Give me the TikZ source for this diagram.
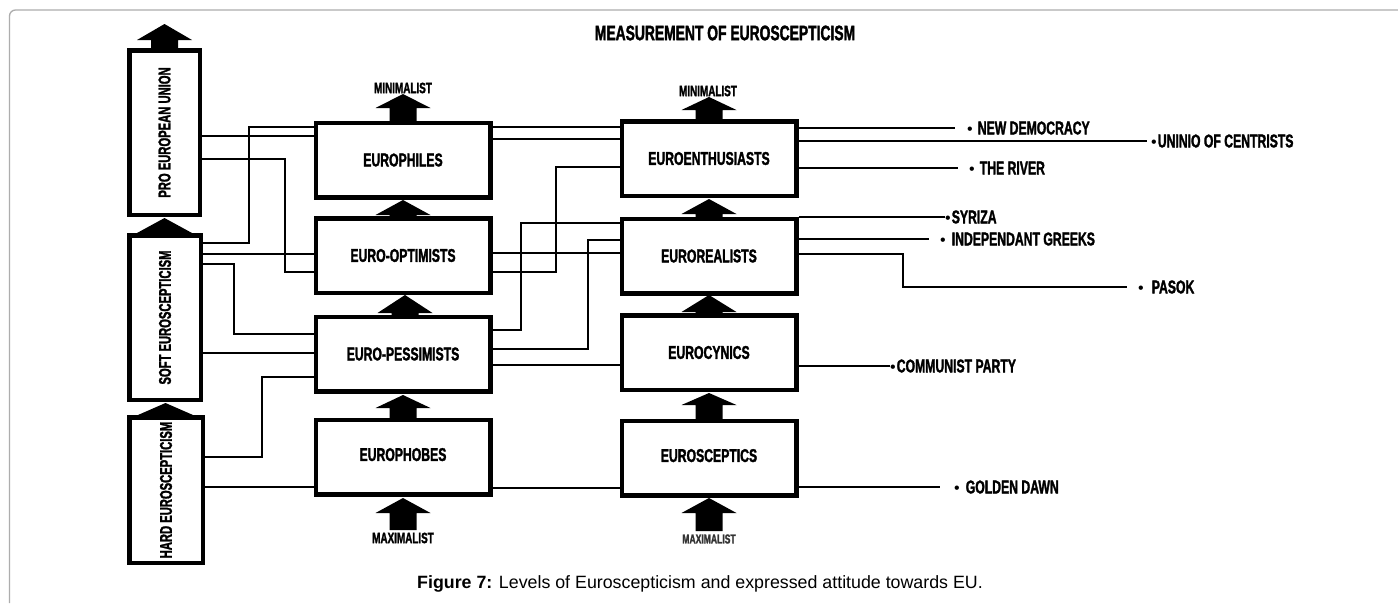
\documentclass[tikz,border=0pt]{standalone}
\usepackage{fontspec}
\usepackage{graphicx}
\setmainfont{Liberation Sans}
\newfontfamily\imp[FakeStretch=0.66,FakeBold=1.6]{Liberation Sans}
\newcommand\pbul{{\normalfont\fontsize{16pt}{16pt}\selectfont •}}
\newcommand\bigUpArr[4]{\fill[black] ({#1-13.5},#4) -- ({#1-13.5},#3) -- ({#1-27.5},#3) -- (#1,#2) -- ({#1+27.5},#3) -- ({#1+13.5},#3) -- ({#1+13.5},#4) -- cycle;}
\begin{document}
\begin{tikzpicture}[x=1pt,y=-1pt,
  box/.style={draw=black, line width=4.5pt, inner sep=0pt, minimum width=174.5pt, minimum height=74.5pt,
    font=\imp\bfseries\fontsize{18.5pt}{18.5pt}\selectfont},
  vbox/.style={draw=black, line width=4.5pt, inner sep=0pt,
    font=\imp\bfseries\fontsize{17pt}{17pt}\selectfont},
  conn/.style={draw=black, line width=2pt},
  smalltxt/.style={inner sep=0pt, font=\imp\bfseries\fontsize{15pt}{15pt}\selectfont},
  party/.style={anchor=west, inner sep=0pt, font=\imp\bfseries\fontsize{18.5pt}{18.5pt}\selectfont},
  titletxt/.style={inner sep=0pt, font=\imp\bfseries\fontsize{21pt}{21pt}\selectfont},
  frameline/.style={draw=black!32, line width=1.3pt, rounded corners=6pt}
]
\useasboundingbox (0,0) rectangle (1398,603);
\fill[white] (0,0) rectangle (1398,603);
\draw[frameline] (9.5,603) -- (9.5,10) -- (1398,10);

% title
\node[titletxt] (title) at (725,33) {MEASUREMENT OF EUROSCEPTICISM};

% left column
\node[vbox, minimum width=70.5pt, minimum height=164.5pt] (pro) at (164.5,132.5) {\rotatebox{90}{PRO EUROPEAN UNION}};
\node[vbox, minimum width=71.5pt, minimum height=164.5pt] (soft) at (165,317.5) {\rotatebox{90}{SOFT EUROSCEPTICISM}};
\node[vbox, minimum width=73.5pt, minimum height=145.5pt] (hard) at (166,490) {\rotatebox{90}{HARD EUROSCEPTICISM}};

% middle column
\node[box] (phil) at (403,160) {\raisebox{-5pt}{EUROPHILES}};
\node[box] (opt) at (403,255.5) {\raisebox{-1.5pt}{EURO-OPTIMISTS}};
\node[box] (pess) at (403,354) {\raisebox{-2.5pt}{EURO-PESSIMISTS}};
\node[box] (phob) at (403,457) {\raisebox{5pt}{EUROPHOBES}};

% right column
\node[box] (enth) at (709,158.5) {\raisebox{-1.5pt}{EUROENTHUSIASTS}};
\node[box] (real) at (709,256) {\raisebox{-1pt}{EUROREALISTS}};
\node[box] (cyn) at (709,352.5) {\raisebox{-2.5pt}{EUROCYNICS}};
\node[box] (scep) at (709,458) {\raisebox{5pt}{EUROSCEPTICS}};

% block arrows
\bigUpArr{164.5}{24}{40}{50}
\bigUpArr{164.5}{218}{233}{236}
\bigUpArr{165.5}{403}{415}{418}
\bigUpArr{403}{94}{108}{122}
\bigUpArr{403}{200}{215}{218}
\bigUpArr{405}{295}{313}{316}
\bigUpArr{403}{395}{408}{419}
\bigUpArr{403}{498}{513}{530}
\bigUpArr{709}{97}{110}{121}
\bigUpArr{709}{199}{214}{218}
\bigUpArr{709}{295}{312}{315}
\bigUpArr{709}{393}{405}{420}
\bigUpArr{709}{498}{513}{531}

% arrow labels
\node[smalltxt] (min1) at (403,88) {MINIMALIST};
\node[smalltxt] (min2) at (708,91) {MINIMALIST};
\node[smalltxt] (max1) at (403,538) {MAXIMALIST};
\node[smalltxt, text=black!80, font=\imp\bfseries\fontsize{13pt}{13pt}\selectfont] (max2) at (709,539) {MAXIMALIST};

% left -> middle connectors
\draw[conn] (pro.east |- 0,136) -- (phil.west |- 0,136);
\draw[conn] (soft.east |- 0,243) -| (249,127) -- (phil.west |- 0,127);
\draw[conn] (pro.east |- 0,159) -| (285,272) -- (opt.west |- 0,272);
\draw[conn] (soft.east |- 0,254) -- (opt.west |- 0,254);
\draw[conn] (soft.east |- 0,264) -| (234,334) -- (pess.west |- 0,334);
\draw[conn] (soft.east |- 0,353) -- (pess.west |- 0,353);
\draw[conn] (hard.east |- 0,457) -| (262,377) -- (pess.west |- 0,377);
\draw[conn] (hard.east |- 0,487) -- (phob.west |- 0,487);

% middle -> right connectors
\draw[conn] (phil.east |- 0,127) -- (enth.west |- 0,127);
\draw[conn] (phil.east |- 0,139) -- (enth.west |- 0,139);
\draw[conn] (opt.east |- 0,272) -| (556,167) -- (enth.west |- 0,167);
\draw[conn] (pess.east |- 0,330) -| (521,223) -- (real.west |- 0,223);
\draw[conn] (pess.east |- 0,349) -| (588,240) -- (real.west |- 0,240);
\draw[conn] (opt.east |- 0,253) -- (real.west |- 0,253);
\draw[conn] (pess.east |- 0,365) -- (cyn.west |- 0,365);
\draw[conn] (phob.east |- 0,488) -- (scep.west |- 0,488);

% parties
\node[party] (nd) at (967,128) {\pbul\kern5pt NEW DEMOCRACY};
\node[party] (uc) at (1151,141) {\pbul\kern1pt UNINIO OF CENTRISTS};
\node[party] (tr) at (969,168) {\pbul\kern5pt THE RIVER};
\node[party] (sy) at (945,217) {\pbul\kern1pt SYRIZA};
\node[party] (ig) at (940,239) {\pbul\kern6pt INDEPENDANT GREEKS};
\node[party] (pa) at (1138,287) {\pbul\kern8pt PASOK};
\node[party] (cp) at (890,366) {\pbul\kern1pt COMMUNIST PARTY};
\node[party] (gd) at (954,487) {\pbul\kern6pt GOLDEN DAWN};

\draw[conn] (enth.east |- nd.west) -- ([xshift=-12pt]nd.west);
\draw[conn] (enth.east |- uc.west) -- ([xshift=-4pt]uc.west);
\draw[conn] (enth.east |- tr.west) -- ([xshift=-11pt]tr.west);
\draw[conn] (real.east |- sy.west) -- (sy.west);
\draw[conn] (real.east |- ig.west) -- ([xshift=-11pt]ig.west);
\draw[conn] (real.east |- 0,254) -| (903,287) -- ([xshift=-11pt]pa.west);
\draw[conn] (cyn.east |- cp.west) -- (cp.west);
\draw[conn] (scep.east |- gd.west) -- ([xshift=-14pt]gd.west);

% caption
\node[inner sep=0pt, font=\fontsize{17.8pt}{20pt}\selectfont] (cap) at (700,584) {\textbf{Figure 7:} Levels of Euroscepticism and expressed attitude towards EU.};
\end{tikzpicture}
\end{document}
